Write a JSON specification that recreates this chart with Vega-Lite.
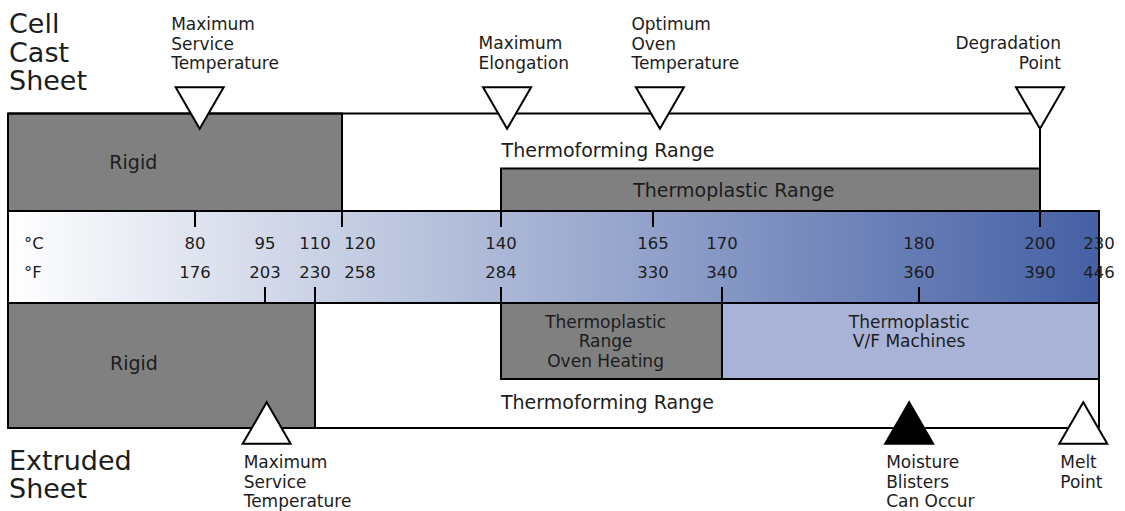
{
  "$schema": "https://vega.github.io/schema/vega-lite/v6.json",
  "width": 1125,
  "height": 511,
  "autosize": {"type": "none"},
  "padding": 0,
  "background": "#ffffff",
  "config": {"view": {"stroke": null}, "text": {"font": "DejaVu Sans", "color": "#1c1c1c"}},
  "datasets": {
    "bar": [{"band": "temperature scale", "t": 20, "t2": 230, "lane": 10, "lane2": 15}],
    "boxes": [
      {"sheet": "cell cast", "kind": "rigid", "t": 20, "t2": 120, "lane": 5, "lane2": 10},
      {"sheet": "cell cast", "kind": "thermoplastic", "t": 140, "t2": 200, "lane": 8, "lane2": 10},
      {"sheet": "extruded", "kind": "rigid", "t": 20, "t2": 110, "lane": 15, "lane2": 21},
      {"sheet": "extruded", "kind": "thermoplastic", "t": 140, "t2": 170, "lane": 15, "lane2": 18},
      {"sheet": "extruded", "kind": "thermoplastic V/F", "t": 170, "t2": 230, "lane": 15, "lane2": 18}
    ],
    "lines": [
      {"line": "cell cast thermoforming", "t": 20, "t2": 200, "lane": 5, "lane2": 5},
      {"line": "degradation", "t": 200, "t2": 200, "lane": 5, "lane2": 11},
      {"line": "extruded thermoforming", "t": 20, "t2": 230, "lane": 21, "lane2": 21},
      {"line": "melt", "t": 230, "t2": 230, "lane": 15, "lane2": 21},
      {"line": "tick", "t": 80, "t2": 80, "lane": 10, "lane2": 11},
      {"line": "tick", "t": 120, "t2": 120, "lane": 10, "lane2": 11},
      {"line": "tick", "t": 140, "t2": 140, "lane": 10, "lane2": 11},
      {"line": "tick", "t": 165, "t2": 165, "lane": 10, "lane2": 11},
      {"line": "tick", "t": 95, "t2": 95, "lane": 14, "lane2": 15},
      {"line": "tick", "t": 110, "t2": 110, "lane": 14, "lane2": 15},
      {"line": "tick", "t": 140, "t2": 140, "lane": 14, "lane2": 15},
      {"line": "tick", "t": 170, "t2": 170, "lane": 14, "lane2": 15},
      {"line": "tick", "t": 180, "t2": 180, "lane": 14, "lane2": 15}
    ],
    "markers": [
      {"marker": "Maximum Service Temperature", "sheet": "cell cast", "kind": "limit", "t": 81, "lane": 4},
      {"marker": "Maximum Elongation", "sheet": "cell cast", "kind": "limit", "t": 141, "lane": 4},
      {"marker": "Optimum Oven Temperature", "sheet": "cell cast", "kind": "limit", "t": 165.5, "lane": 4},
      {"marker": "Degradation Point", "sheet": "cell cast", "kind": "limit", "t": 200, "lane": 4},
      {"marker": "Maximum Service Temperature", "sheet": "extruded", "kind": "limit", "t": 95.5, "lane": 20},
      {"marker": "Moisture Blisters Can Occur", "sheet": "extruded", "kind": "warning", "t": 179.5, "lane": 20},
      {"marker": "Melt Point", "sheet": "extruded", "kind": "limit", "t": 222, "lane": 20}
    ],
    "markerLabels": [
      {"text": "Maximum\nService\nTemperature", "sheet": "cell cast", "t": 81, "lane": 2},
      {"text": "Maximum\nElongation", "sheet": "cell cast", "t": 141, "lane": 3},
      {"text": "Optimum\nOven\nTemperature", "sheet": "cell cast", "t": 165.5, "lane": 2},
      {"text": "Degradation\nPoint", "sheet": "cell cast", "t": 200, "lane": 3},
      {"text": "Maximum\nService\nTemperature", "sheet": "extruded", "t": 95.5, "lane": 23},
      {"text": "Moisture\nBlisters\nCan Occur", "sheet": "extruded", "t": 179.5, "lane": 23},
      {"text": "Melt\nPoint", "sheet": "extruded", "t": 222, "lane": 23}
    ],
    "sheets": [
      {"text": "Cell\nCast\nSheet", "t": 20, "lane": 1},
      {"text": "Extruded\nSheet", "t": 20, "lane": 22}
    ],
    "boxLabels": [
      {"text": "Rigid", "t": 60.2, "lane": 7},
      {"text": "Thermoforming Range", "t": 157.6, "lane": 6},
      {"text": "Thermoplastic Range", "t": 170.6, "lane": 9},
      {"text": "Thermoplastic\nRange\nOven Heating", "t": 157.2, "lane": 16},
      {"text": "Thermoplastic\nV/F Machines", "t": 179.5, "lane": 16},
      {"text": "Rigid", "t": 60.4, "lane": 17},
      {"text": "Thermoforming Range", "t": 157.5, "lane": 19}
    ],
    "numbers": [
      {"t": 80, "unit": "°C", "value": 80, "lane": 12},
      {"t": 95, "unit": "°C", "value": 95, "lane": 12},
      {"t": 110, "unit": "°C", "value": 110, "lane": 12},
      {"t": 120, "unit": "°C", "value": 120, "lane": 12},
      {"t": 140, "unit": "°C", "value": 140, "lane": 12},
      {"t": 165, "unit": "°C", "value": 165, "lane": 12},
      {"t": 170, "unit": "°C", "value": 170, "lane": 12},
      {"t": 180, "unit": "°C", "value": 180, "lane": 12},
      {"t": 200, "unit": "°C", "value": 200, "lane": 12},
      {"t": 230, "unit": "°C", "value": 230, "lane": 12},
      {"t": 80, "unit": "°F", "value": 176, "lane": 13},
      {"t": 95, "unit": "°F", "value": 203, "lane": 13},
      {"t": 110, "unit": "°F", "value": 230, "lane": 13},
      {"t": 120, "unit": "°F", "value": 258, "lane": 13},
      {"t": 140, "unit": "°F", "value": 284, "lane": 13},
      {"t": 165, "unit": "°F", "value": 330, "lane": 13},
      {"t": 170, "unit": "°F", "value": 340, "lane": 13},
      {"t": 180, "unit": "°F", "value": 360, "lane": 13},
      {"t": 200, "unit": "°F", "value": 390, "lane": 13},
      {"t": 230, "unit": "°F", "value": 446, "lane": 13}
    ],
    "units": [
      {"t": 20, "unit": "°C", "lane": 12},
      {"t": 20, "unit": "°F", "lane": 13}
    ]
  },
  "encoding": {
    "x": {
      "field": "t", "type": "quantitative", "axis": null,
      "scale": {"domain": [20, 80, 95, 110, 120, 140, 165, 170, 180, 200, 230], "range": [8, 195, 265, 315, 342, 501, 653, 722, 919, 1040, 1099], "nice": false, "zero": false}
    },
    "y": {
      "field": "lane", "type": "quantitative", "axis": null,
      "scale": {"domain": [0, 1, 2, 3, 4, 5, 6, 7, 8, 9, 10, 11, 12, 13, 14, 15, 16, 17, 18, 19, 20, 21, 22, 23, 24], "range": [0, 12, 17.1, 36.1, 108, 113.5, 151.2, 163.2, 168.5, 191.2, 211, 227, 243.8, 272.8, 287, 303, 314.8, 364.2, 379, 403.2, 423, 428, 448.5, 455.3, 511], "nice": false, "zero": false}
    }
  },
  "resolve": {"scale": {"fill": "independent", "shape": "independent"}},
  "layer": [
    {
      "data": {"name": "bar"},
      "mark": {"type": "rect", "fill": {"gradient": "linear", "x1": 0, "y1": 0, "x2": 1, "y2": 0, "stops": [{"offset": 0, "color": "#ffffff"}, {"offset": 1, "color": "#4560a5"}]}, "stroke": "#000000", "strokeWidth": 2},
      "encoding": {"x2": {"field": "t2"}, "y2": {"field": "lane2"}}
    },
    {
      "data": {"name": "boxes"},
      "mark": {"type": "rect", "stroke": "#000000", "strokeWidth": 2},
      "encoding": {
        "x2": {"field": "t2"}, "y2": {"field": "lane2"},
        "fill": {"field": "kind", "type": "nominal", "scale": {"domain": ["rigid", "thermoplastic", "thermoplastic V/F"], "range": ["#808080", "#808080", "#a9b3d7"]}, "legend": null}
      }
    },
    {
      "data": {"name": "lines"},
      "mark": {"type": "rule", "stroke": "#000000", "strokeWidth": 2},
      "encoding": {"x2": {"field": "t2"}, "y2": {"field": "lane2"}}
    },
    {
      "data": {"name": "markers"},
      "mark": {"type": "point", "filled": true, "opacity": 1, "size": 2304, "stroke": "#000000", "strokeWidth": 2},
      "encoding": {
        "shape": {"field": "sheet", "type": "nominal", "scale": {"domain": ["cell cast", "extruded"], "range": ["triangle-down", "triangle-up"]}, "legend": null},
        "fill": {"field": "kind", "type": "nominal", "scale": {"domain": ["limit", "warning"], "range": ["#ffffff", "#000000"]}, "legend": null}
      }
    },
    {
      "data": {"name": "sheets"},
      "mark": {"type": "text", "align": "left", "baseline": "top", "fontSize": 27, "lineHeight": 28.5, "lineBreak": "\n", "dx": 1},
      "encoding": {"text": {"field": "text"}}
    },
    {
      "data": {"name": "markerLabels"},
      "transform": [{"filter": "datum.sheet === 'cell cast' && datum.t < 200"}],
      "mark": {"type": "text", "align": "left", "baseline": "top", "fontSize": 17, "lineHeight": 19.5, "lineBreak": "\n", "dx": -28.5},
      "encoding": {"text": {"field": "text"}}
    },
    {
      "data": {"name": "markerLabels"},
      "transform": [{"filter": "datum.sheet === 'cell cast' && datum.t >= 200"}],
      "mark": {"type": "text", "align": "right", "baseline": "top", "fontSize": 17, "lineHeight": 19.5, "lineBreak": "\n", "dx": 21},
      "encoding": {"text": {"field": "text"}}
    },
    {
      "data": {"name": "markerLabels"},
      "transform": [{"filter": "datum.sheet === 'extruded'"}],
      "mark": {"type": "text", "align": "left", "baseline": "top", "fontSize": 17, "lineHeight": 19.5, "lineBreak": "\n", "dx": -23},
      "encoding": {"text": {"field": "text"}}
    },
    {
      "data": {"name": "boxLabels"},
      "transform": [{"filter": "datum.lane !== 16"}],
      "mark": {"type": "text", "align": "center", "baseline": "middle", "fontSize": 19},
      "encoding": {"text": {"field": "text"}}
    },
    {
      "data": {"name": "boxLabels"},
      "transform": [{"filter": "datum.lane === 16"}],
      "mark": {"type": "text", "align": "center", "baseline": "top", "fontSize": 17, "lineHeight": 19.6, "lineBreak": "\n"},
      "encoding": {"text": {"field": "text"}}
    },
    {
      "data": {"name": "numbers"},
      "transform": [{"filter": "datum.t !== 120"}],
      "mark": {"type": "text", "align": "center", "baseline": "middle", "fontSize": 16.5},
      "encoding": {"text": {"field": "value", "type": "nominal"}}
    },
    {
      "data": {"name": "numbers"},
      "transform": [{"filter": "datum.t === 120"}],
      "mark": {"type": "text", "align": "center", "baseline": "middle", "fontSize": 16.5, "dx": 18},
      "encoding": {"text": {"field": "value", "type": "nominal"}}
    },
    {
      "data": {"name": "units"},
      "mark": {"type": "text", "align": "left", "baseline": "middle", "fontSize": 16.5, "dx": 16},
      "encoding": {"text": {"field": "unit"}}
    }
  ]
}
